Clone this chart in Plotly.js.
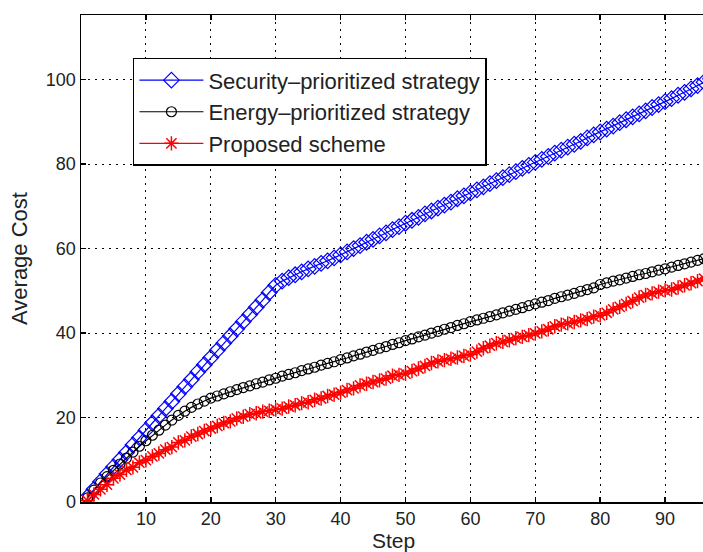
<!DOCTYPE html>
<html>
<head>
<meta charset="utf-8">
<script src="https://cdn.plot.ly/plotly-3.0.1.min.js"></script>
<style>
html, body { margin: 0; padding: 0; overflow: hidden; background: #fff; }
#chart { width: 730px; height: 552px; }
</style>
</head>
<body>
<div id="chart"></div>
<script>
const steps = [1,2,3,4,5,6,7,8,9,10,11,12,13,14,15,16,17,18,19,20,21,22,23,24,25,26,27,28,29,30,31,32,33,34,35,36,37,38,39,40,41,42,43,44,45,46,47,48,49,50,51,52,53,54,55,56,57,58,59,60,61,62,63,64,65,66,67,68,69,70,71,72,73,74,75,76,77,78,79,80,81,82,83,84,85,86,87,88,89,90,91,92,93,94,95,96,97,98,99,100];

const security = [1.2,3.0,4.8,6.6,8.3,10.0,11.7,13.5,15.2,17.0,
  18.7,20.4,22.1,23.8,25.6,27.3,29.0,30.8,32.5,34.2,
  35.9,37.6,39.3,41.0,42.7,44.4,46.1,47.8,49.6,51.3,
  52.3,53.1,53.8,54.5,55.2,55.8,56.5,57.1,57.8,58.5,
  59.2,60.0,60.7,61.5,62.2,63.0,63.7,64.5,65.2,66.0,
  66.7,67.4,68.2,68.9,69.6,70.3,71.0,71.8,72.5,73.2,
  73.9,74.6,75.4,76.1,76.8,77.5,78.2,79.0,79.7,80.4,
  81.1,81.8,82.6,83.3,84.0,84.7,85.4,86.2,86.9,87.6,
  88.3,89.0,89.8,90.5,91.2,91.9,92.6,93.4,94.1,94.8,
  95.5,96.3,97.0,97.8,98.6,99.4,100.2,101.0,101.8,102.6];

const energy = [1.0,2.8,4.5,6.0,7.5,9.0,10.4,11.8,13.2,14.5,
  15.8,17.0,18.2,19.4,20.5,21.5,22.4,23.2,23.9,24.6,
  25.1,25.6,26.1,26.6,27.1,27.5,28.0,28.4,28.9,29.3,
  29.8,30.2,30.6,31.1,31.5,31.9,32.4,32.8,33.2,33.7,
  34.1,34.6,35.0,35.5,35.9,36.4,36.8,37.3,37.7,38.2,
  38.6,39.1,39.5,40.0,40.4,40.9,41.3,41.8,42.2,42.7,
  43.1,43.5,43.9,44.3,44.8,45.2,45.6,46.0,46.5,46.9,
  47.3,47.7,48.2,48.6,49.0,49.4,49.9,50.3,50.7,51.5,
  51.9,52.3,52.6,53.0,53.4,53.8,54.1,54.5,54.9,55.2,
  55.6,56.0,56.4,56.8,57.2,57.6,58.0,58.4,58.8,59.2];

const proposed = [0.3,1.8,3.0,4.1,5.6,6.5,7.6,8.2,9.3,9.9,
  10.8,11.5,12.4,13.0,14.1,14.6,15.5,16.1,16.8,17.4,
  18.0,18.7,19.1,19.8,20.2,20.8,21.0,21.4,21.6,21.9,
  22.1,22.6,22.9,23.4,23.6,24.2,24.5,25.1,25.4,25.9,
  26.5,26.9,27.6,28.0,28.4,28.8,29.2,29.9,30.1,30.4,
  31.0,31.6,32.2,32.9,33.3,33.6,33.9,34.2,34.6,34.9,
  35.6,36.4,37.0,37.6,37.9,38.3,38.8,39.1,39.5,39.9,
  40.4,40.9,41.6,42.0,42.3,42.6,43.0,43.3,43.9,44.2,
  44.8,45.6,46.2,46.9,47.6,48.4,49.0,49.4,49.8,50.1,
  50.3,50.8,51.3,51.8,52.3,52.9,53.4,53.9,54.4,54.9];

const seriesNames = ["Security\u2013prioritized strategy", "Energy\u2013prioritized strategy", "Proposed scheme"];
const xTicks = [10,20,30,40,50,60,70,80,90,100];
const yTicks = [0,20,40,60,80,100];

const font = "Liberation Sans, Arial, Helvetica, sans-serif";

const traces = [
  {x: steps, y: security, name: seriesNames[0], mode: "lines+markers",
   line: {color: "#0000ff", width: 1.2},
   marker: {symbol: "diamond-open", size: 12, color: "#0000ff", line: {width: 1.2, color: "#0000ff"}}},
  {x: steps, y: energy, name: seriesNames[1], mode: "lines+markers",
   line: {color: "#000000", width: 1.2},
   marker: {symbol: "circle-open", size: 10, color: "#000000", line: {width: 1.2, color: "#000000"}}},
  {x: steps, y: proposed, name: seriesNames[2], mode: "lines+markers",
   line: {color: "#ff0000", width: 1.2},
   marker: {symbol: "asterisk-open", size: 12, color: "#ff0000", line: {width: 1.5, color: "#ff0000"}}}
];

const axisCommon = {
  showline: true, linecolor: "#000", linewidth: 1.5, mirror: "ticks",
  ticks: "inside", ticklen: 5, tickcolor: "#000", tickwidth: 1.5,
  showgrid: true, gridcolor: "#000", gridwidth: 1, griddash: "2px,5px",
  zeroline: false, tickfont: {family: font, size: 18, color: "#222"}
};

const layout = {
  width: 730, height: 552,
  margin: {l: 81, r: 0, t: 15, b: 50},
  paper_bgcolor: "#fff", plot_bgcolor: "#fff",
  showlegend: true,
  xaxis: Object.assign({}, axisCommon, {
    range: [0, 100], tickmode: "array", tickvals: xTicks
  }),
  yaxis: Object.assign({}, axisCommon, {
    range: [0, 115.3], tickmode: "array", tickvals: yTicks,
    title: {text: "Average Cost", font: {family: font, size: 22, color: "#222"}, standoff: 12}
  }),
  annotations: [{
    text: "Step", xref: "paper", yref: "paper", x: 0.482, y: -0.08,
    xanchor: "center", yanchor: "middle", showarrow: false,
    font: {family: font, size: 21, color: "#222"}
  }],
  legend: {
    x: 0.08, y: 0.912, xanchor: "left", yanchor: "top",
    bgcolor: "#fff", bordercolor: "#000", borderwidth: 1.5,
    font: {family: font, size: 22, color: "#222"},
    itemwidth: 64, tracegroupgap: 0
  }
};

Plotly.newPlot("chart", traces, layout, {displayModeBar: false, staticPlot: true});
</script>
</body>
</html>
